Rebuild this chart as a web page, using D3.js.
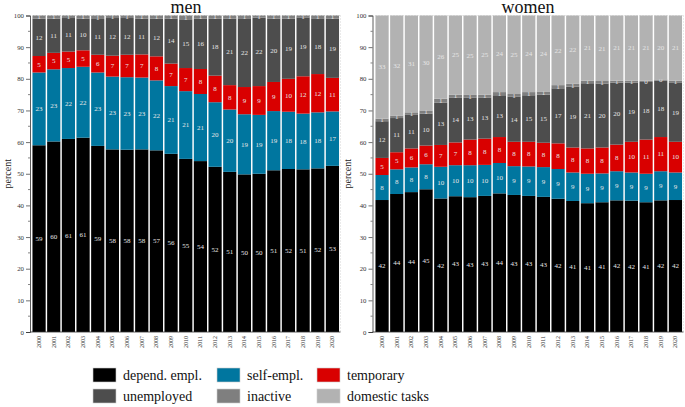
<!DOCTYPE html>
<html><head><meta charset="utf-8">
<script src="https://cdn.jsdelivr.net/npm/d3@7"></script>
<style>body{margin:0;background:#fff}svg{display:block}svg text{font-family:"Liberation Serif","Times New Roman",serif}</style>
</head><body>
<svg id="c" width="685" height="407"></svg>
<script>
const years = ["2000","2001","2002","2003","2004","2005","2006","2007","2008","2009","2010","2011","2012","2013","2014","2015","2016","2017","2018","2019","2020"];
const categories = ["depend. empl.","self-empl.","temporary","unemployed","inactive","domestic tasks"];
const colors = ["#000000","#00769f","#d90000","#4d4d4d","#7f7f7f","#b2b2b2"];
const yTicks = [0,10,20,30,40,50,60,70,80,90,100];

const menDepend   = [59.0,60.2,61.0,61.4,58.8,57.7,57.6,57.7,57.4,56.3,54.7,54.0,52.2,50.6,49.8,50.0,51.1,51.5,51.4,51.7,52.5];
const menSelf     = [23.0,22.8,22.4,22.4,23.2,23.0,22.9,22.7,22.1,21.4,21.4,21.2,20.4,19.7,19.0,18.6,18.7,18.1,17.6,17.7,17.2];
const menTemp     = [5.2,5.2,5.2,5.2,5.6,6.6,7.1,7.3,7.6,7.1,7.3,7.9,8.4,7.7,8.6,9.1,9.2,10.4,11.8,12.1,10.6];
const menUnemp    = [11.8,10.8,10.6,10.0,11.3,11.9,11.6,11.3,11.9,14.2,15.4,15.9,18.0,21.0,21.7,21.6,20.0,19.0,18.6,17.6,18.7];
const menInactive = [1.0,1.0,0.8,1.0,1.1,0.8,0.8,1.0,1.0,1.0,1.2,1.0,1.0,1.0,0.9,0.7,1.0,1.0,0.6,0.9,1.0];
const menDomestic = [0,0,0,0,0,0,0,0,0,0,0,0,0,0,0,0,0,0,0,0,0];

const womenDepend   = [41.7,43.6,44.2,45.1,42.2,42.9,42.6,43.0,43.8,43.3,43.0,42.7,42.1,41.4,40.7,41.0,41.6,41.5,41.0,41.6,41.7];
const womenSelf     = [7.9,7.8,7.8,7.9,10.0,9.8,10.1,9.8,9.6,9.1,9.3,9.4,9.4,9.0,9.3,9.1,9.2,8.9,9.0,9.2,8.7];
const womenTemp     = [5.4,5.4,6.0,5.9,6.9,7.2,8.1,8.3,8.2,7.7,7.8,7.7,8.1,7.9,8.0,8.2,8.4,9.7,10.8,10.8,9.7];
const womenUnemp    = [11.6,10.8,10.6,10.1,13.4,14.2,13.2,13.0,13.2,14.2,14.7,15.2,17.4,19.2,20.6,20.2,19.6,18.7,18.2,17.8,18.6];
const womenInactive = [0.8,0.8,0.8,1.0,1.2,0.9,0.9,0.9,1.0,0.9,1.0,1.0,1.0,0.9,0.8,0.8,0.6,0.6,0.4,0.4,0.7];
const womenDomestic = [32.6,31.6,30.6,30.0,26.3,25.0,25.1,25.0,24.2,24.8,24.2,24.0,22.0,21.6,20.6,20.7,20.6,20.6,20.6,20.2,20.6];

const svg = d3.select("#c");

function buildRows(series){
  return years.map((y,i)=>{
    const r = {year:y};
    categories.forEach((c,k)=>{ r[c] = series[k][i]; });
    return r;
  });
}

function panel(title, series, axisX, xRange, titleX, labelX){
  const rows = buildRows(series);
  const stack = d3.stack().keys(categories)(rows);
  const x = d3.scaleBand().domain(years).range(xRange).paddingInner(0.1).paddingOuter(0.1);
  const y = d3.scaleLinear().domain([0,100]).range([332,15.5]).clamp(true);
  const g = svg.append("g");

  g.append("line").attr("x1",axisX).attr("x2",xRange[1]).attr("y1",y(100)).attr("y2",y(100))
    .attr("stroke","#bbb").attr("stroke-width",0.6).attr("stroke-dasharray","1,2");
  g.append("line").attr("x1",xRange[1]).attr("x2",xRange[1]).attr("y1",y(100)).attr("y2",y(0))
    .attr("stroke","#bbb").attr("stroke-width",0.6).attr("stroke-dasharray","1,2");

  g.append("text").attr("x",titleX).attr("y",12.5).attr("text-anchor","middle")
    .attr("font-size",18).attr("fill","#111").text(title);

  stack.forEach((layer,k)=>{
    const lg = g.append("g");
    lg.selectAll("rect").data(layer).join("rect")
      .attr("x",d=>x(d.data.year)).attr("width",x.bandwidth())
      .attr("y",d=>y(d[1])).attr("height",d=>Math.max(0,y(d[0])-y(d[1])))
      .attr("fill",colors[k]);
    lg.selectAll("text").data(layer.filter(d=>d[1]-d[0]>0)).join("text")
      .attr("x",d=>x(d.data.year)+x.bandwidth()/2)
      .attr("y",d=>(y(d[0])+y(d[1]))/2+2.3)
      .attr("text-anchor","middle")
      .attr("font-size",7)
      .attr("fill","#e6e6e6")
      .text(d=>Math.round(d[1]-d[0]));
  });

  const ya = g.append("g").attr("transform",`translate(${axisX},0)`)
    .call(d3.axisLeft(y).tickValues(yTicks).tickSize(4).tickPadding(2));
  ya.attr("font-family",null);
  ya.select(".domain").attr("stroke","#333").attr("stroke-width",0.8);
  ya.selectAll(".tick line").attr("stroke","#333").attr("stroke-width",0.7);
  ya.selectAll(".tick text").attr("font-size",6.8).attr("fill","#333");
  g.append("g").attr("transform",`translate(${axisX},0)`)
    .selectAll("line").data(d3.range(5,100,10)).join("line")
    .attr("x1",-2).attr("x2",0).attr("y1",d=>y(d)).attr("y2",d=>y(d))
    .attr("stroke","#333").attr("stroke-width",0.6);

  const xa = g.append("g").attr("transform","translate(0,332)")
    .call(d3.axisBottom(x).tickSize(0).tickPadding(4));
  xa.attr("font-family",null);
  xa.select(".domain").remove();
  g.append("line").attr("x1",axisX).attr("x2",xRange[1]).attr("y1",332).attr("y2",332)
    .attr("stroke","#333").attr("stroke-width",0.8);
  xa.selectAll(".tick text").attr("font-size",6).attr("fill","#333")
    .attr("transform","rotate(-90)").attr("text-anchor","end")
    .attr("x",-4).attr("y",0).attr("dy","0.32em");

  g.append("text").attr("transform",`translate(${labelX},${y(50)}) rotate(-90)`)
    .attr("text-anchor","middle").attr("font-size",10).attr("fill","#222")
    .text("percent");
}

panel("men",[menDepend,menSelf,menTemp,menUnemp,menInactive,menDomestic],30,[31,340.5],186,11);
panel("women",[womenDepend,womenSelf,womenTemp,womenUnemp,womenInactive,womenDomestic],372.5,[374,683.5],528,351);

const legX = [93,217,317];
const leg = svg.append("g");
categories.forEach((c,i)=>{
  const col = i%3, row = Math.floor(i/3);
  const lx = legX[col], ly = 368 + row*21;
  leg.append("rect").attr("x",lx).attr("y",ly).attr("width",23).attr("height",14)
    .attr("fill",colors[i]).attr("stroke","#ccc").attr("stroke-width",0.6);
  leg.append("text").attr("x",lx+30).attr("y",ly+11.5)
    .attr("font-size",14).attr("fill","#111").text(c);
});
</script>
</body></html>
